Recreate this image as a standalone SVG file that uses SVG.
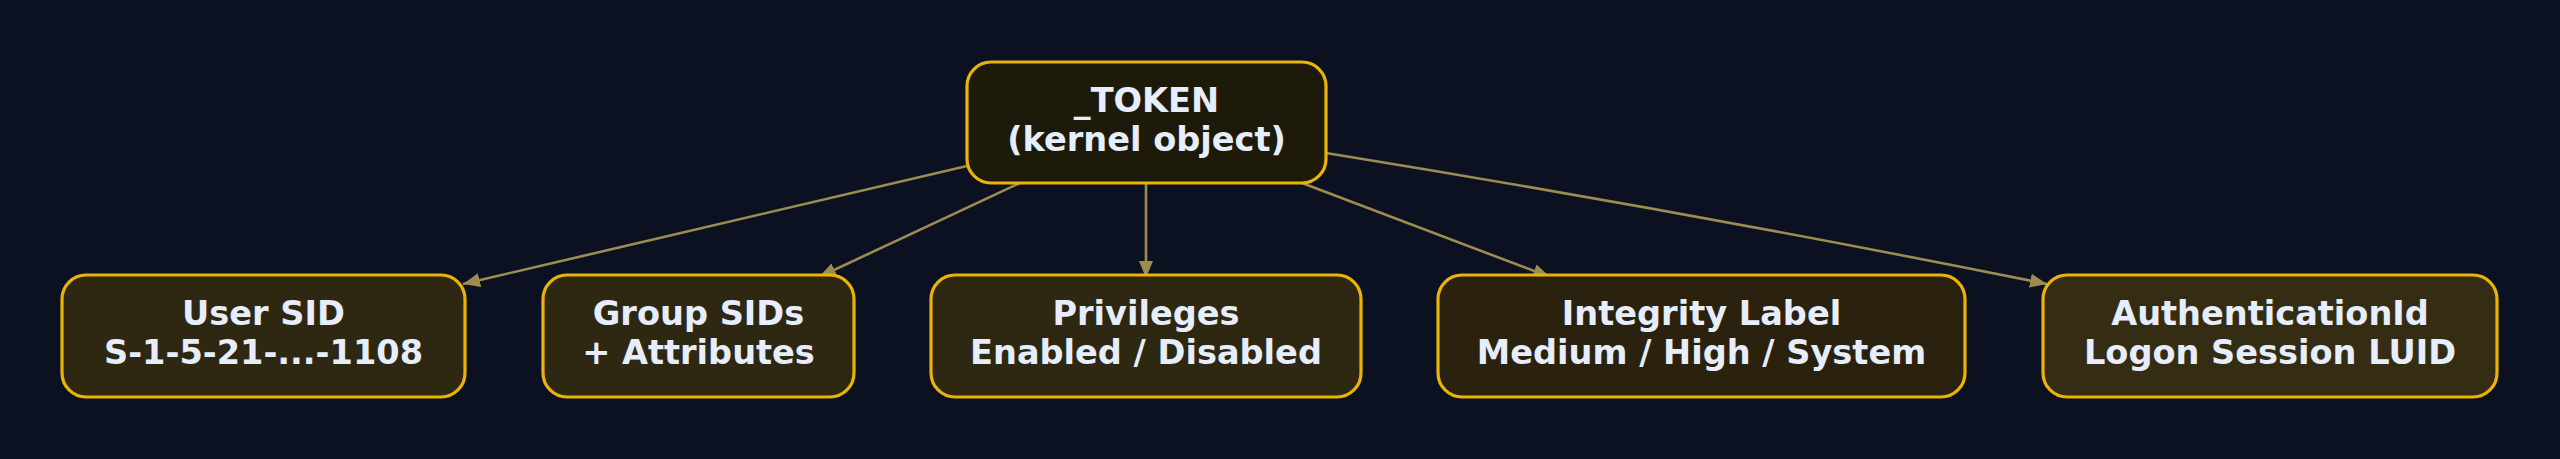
<svg xmlns="http://www.w3.org/2000/svg" width="2560" height="459" viewBox="0 0 2560 459">
<style>
.box{stroke:#eab308;stroke-width:3.2}
.t{font-family:"DejaVu Sans",sans-serif;font-weight:bold;font-size:33.6px;fill:#e6edfb;text-anchor:middle}
.e{stroke:#9d8c4f;stroke-width:2.6;fill:none;marker-end:url(#ah)}
</style>
<defs>
<marker id="ah" markerUnits="userSpaceOnUse" markerWidth="18" markerHeight="14" refX="17" refY="7" orient="auto">
<path d="M0,0 L17,7 L0,14 z" fill="#9d8c4f"/>
</marker>
</defs>
<rect width="2560" height="459" fill="#0b1120"/>
<g id="edges">
<path class="e" d="M967,166 L463,284"/>
<path class="e" d="M1020,183 L819,277"/>
<path class="e" d="M1146,183 L1146,278"/>
<path class="e" d="M1302,183 L1550,277"/>
<path class="e" d="M1326,153 Q1690,212 2047,284"/>
</g>
<g id="token">
<rect class="box" x="967" y="62" width="359" height="121" rx="24" fill="#1d1a0a"/>
<text class="t" x="1146.5" y="112">_TOKEN</text>
<text class="t" x="1146.5" y="151">(kernel object)</text>
</g>
<g id="usersid">
<rect class="box" x="62" y="275" width="403" height="122" rx="24" fill="#2e2712"/>
<text class="t" x="263.5" y="325">User SID</text>
<text class="t" x="263.5" y="364">S-1-5-21-...-1108</text>
</g>
<g id="groupsids">
<rect class="box" x="543" y="275" width="311" height="122" rx="24" fill="#2e2712"/>
<text class="t" x="698.5" y="325">Group SIDs</text>
<text class="t" x="698.5" y="364">+ Attributes</text>
</g>
<g id="privileges">
<rect class="box" x="931" y="275" width="430" height="122" rx="24" fill="#2e2712"/>
<text class="t" x="1146" y="325">Privileges</text>
<text class="t" x="1146" y="364">Enabled / Disabled</text>
</g>
<g id="integrity">
<rect class="box" x="1438" y="275" width="527" height="122" rx="24" fill="#2a210f"/>
<text class="t" x="1701.5" y="325">Integrity Label</text>
<text class="t" x="1701.5" y="364">Medium / High / System</text>
</g>
<g id="authid">
<rect class="box" x="2043" y="275" width="454" height="122" rx="24" fill="#352d13"/>
<text class="t" x="2270" y="325">AuthenticationId</text>
<text class="t" x="2270" y="364">Logon Session LUID</text>
</g>
</svg>
